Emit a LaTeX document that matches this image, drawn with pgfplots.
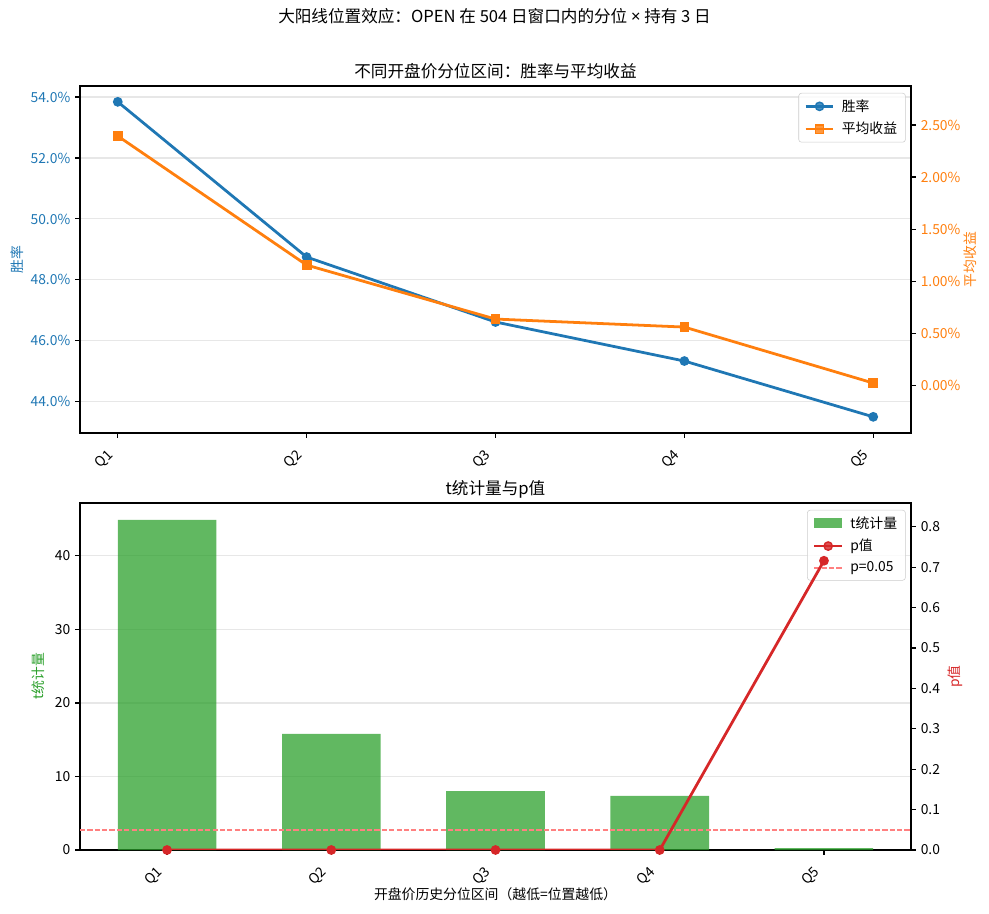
\documentclass[border=0pt]{standalone}
\usepackage{fontspec}
\setmainfont{Noto Sans CJK SC}
\newfontfamily\latinfont{Noto Sans}
\usepackage{pgfplots}
\pgfplotsset{compat=1.18}
\definecolor{mblue}{HTML}{1F77B4}
\definecolor{morange}{HTML}{FF7F0E}
\definecolor{mgreen}{HTML}{2CA02C}
\definecolor{mred}{HTML}{D62728}
\definecolor{gridc}{HTML}{E7E7E7}
\definecolor{legc}{HTML}{CCCCCC}
\definecolor{pinkline}{HTML}{FF8080}
\pgfplotsset{
  every axis/.append style={
    scale only axis, width=598.32bp, height=249.84bp,
    /pgf/number format/assume math mode=true,
    tick align=outside, major tick length=3.5bp,
    tick style={line width=0.8bp, color=black},
    axis line style={-, line width=0.8bp},
    tick label style={font=\fontsize{10}{12}\selectfont},
    label style={font=\fontsize{10}{12}\selectfont},
    title style={font=\fontsize{12}{14}\selectfont, at={(0.5,1)}, anchor=base},
    major grid style={line width=0.8bp, color=gridc},
    legend style={at={(1,1)}, anchor=north east, xshift=-3.8bp, yshift=-5bp,
      draw=legc, rounded corners=2bp, fill=white, fill opacity=0.8, text opacity=1,
      font=\fontsize{10}{12}\selectfont, inner xsep=4bp, inner ysep=2.5bp, row sep=2.5bp,
      /tikz/column sep=3bp},
    legend cell align=left,
    legend image code/.code={\draw[sharp corners, mark repeat=2,mark phase=2,#1] plot coordinates {(0bp,0bp)(10bp,0bp)(20bp,0bp)};},
  },
  qlabels/.style={
    xtick={0,1,2,3,4}, xticklabels={Q1,Q2,Q3,Q4,Q5},
    xticklabel style={xshift=-2.8bp, yshift=-12.8bp, rotate=45, anchor=base east, inner sep=0pt},
  },
}
\begin{document}
\begin{tikzpicture}
\path[use as bounding box] (0,0) rectangle (712.08bp,658.08bp);
\node[font=\fontsize{12}{14}\selectfont] at (356.04bp,646.5bp) {大阳线位置效应：OPEN 在 504 日窗口内的分位 {\latinfont ×} 持有 3 日};

% ---------- top left ----------
\begin{axis}[at={(57.6bp,346.32bp)}, anchor=south west,
  xmin=-0.2, xmax=4.2, ymin=42.98, ymax=54.36,
  qlabels,
  ytick={44,46,48,50,52,54},
  yticklabel={\pgfmathprintnumber[fixed,fixed zerofill,precision=1]{\tick}\%},
  yticklabel style={color=mblue},
  ymajorgrids,
  xtick pos=left, ytick pos=left,
  ylabel={胜率}, ylabel style={color=mblue, at={(axis description cs:-0.0758,0.5)}, anchor=center},
  title={不同开盘价分位区间：胜率与平均收益},
]
\addplot[mblue, line width=2bp, mark=*, mark size=3bp, mark options={solid, line width=1bp}]
  coordinates {(0,53.84)(1,48.75)(2,46.62)(3,45.34)(4,43.51)};
\addlegendentry{胜率}
\addlegendimage{morange, line width=2bp, mark=square*, mark size=3bp, mark options={solid, line width=1bp}}
\addlegendentry{平均收益}
\end{axis}

% ---------- top right ----------
\begin{axis}[at={(57.6bp,346.32bp)}, anchor=south west,
  xmin=-0.2, xmax=4.2, ymin=-0.46, ymax=2.875,
  axis x line=none, axis y line*=right, ytick pos=right, yticklabel pos=right,
  ytick={0,0.5,1,1.5,2,2.5},
  yticklabel={\pgfmathprintnumber[fixed,fixed zerofill,precision=2]{\tick}\%},
  yticklabel style={color=morange},
  ylabel={平均收益}, ylabel style={color=morange, at={(axis description cs:1.071,0.5)}, anchor=center},
]
\addplot[morange, line width=2bp, mark=square*, mark size=3bp, mark options={solid, line width=1bp}]
  coordinates {(0,2.394)(1,1.154)(2,0.635)(3,0.558)(4,0.02)};
\end{axis}

% ---------- bottom left ----------
\begin{axis}[at={(57.6bp,46.08bp)}, anchor=south west,
  xmin=-0.53, xmax=4.53, ymin=0, ymax=47.2,
  qlabels,
  ytick={0,10,20,30,40},
  ymajorgrids,
  xtick pos=left, ytick pos=left,
  ylabel={t统计量}, ylabel style={color=mgreen, at={(axis description cs:-0.0505,0.5)}, anchor=center},
  xlabel={开盘价历史分位区间（越低=位置越低）}, xlabel style={at={(axis description cs:0.5,-0.127)}, anchor=center},
  title={t统计量与p值},
]
\addplot[ybar, bar width=0.6, fill=mgreen, fill opacity=0.75, draw=none,
  legend image code/.code={\fill[sharp corners, mgreen, fill opacity=0.75] (0bp,-3.5bp) rectangle (20bp,3.5bp);}]
  coordinates {(0,44.9)(1,15.8)(2,8.0)(3,7.35)(4,0.27)};
\addlegendentry{t统计量}
\addlegendimage{mred, line width=2bp, mark=*, mark size=3bp, mark options={solid, line width=1bp}}
\addlegendentry{p值}
\addlegendimage{pinkline, line width=1bp, dash pattern=on 3.7bp off 1.6bp}
\addlegendentry{p=0.05}
\end{axis}

% ---------- bottom right ----------
\begin{axis}[at={(57.6bp,46.08bp)}, anchor=south west,
  xmin=-0.53, xmax=4.53, ymin=0, ymax=0.859,
  axis x line=none, axis y line*=right, ytick pos=right, yticklabel pos=right,
  ytick={0,0.1,0.2,0.3,0.4,0.5,0.6,0.7,0.8},
  yticklabel={\pgfmathprintnumber[fixed,fixed zerofill,precision=1]{\tick}},
  ylabel={p值}, ylabel style={color=mred, at={(axis description cs:1.053,0.5)}, anchor=center},
]
\addplot[pinkline, line width=1.2bp, dash pattern=on 3.7bp off 1.6bp]
  coordinates {(-0.53,0.05)(4.53,0.05)};
\addplot[mred, line width=2bp, mark=*, mark size=3bp, mark options={solid, line width=1bp}]
  coordinates {(0,0.0)(1,0.0)(2,0.0)(3,0.0)(4,0.716)};
\end{axis}
\end{tikzpicture}
\end{document}
